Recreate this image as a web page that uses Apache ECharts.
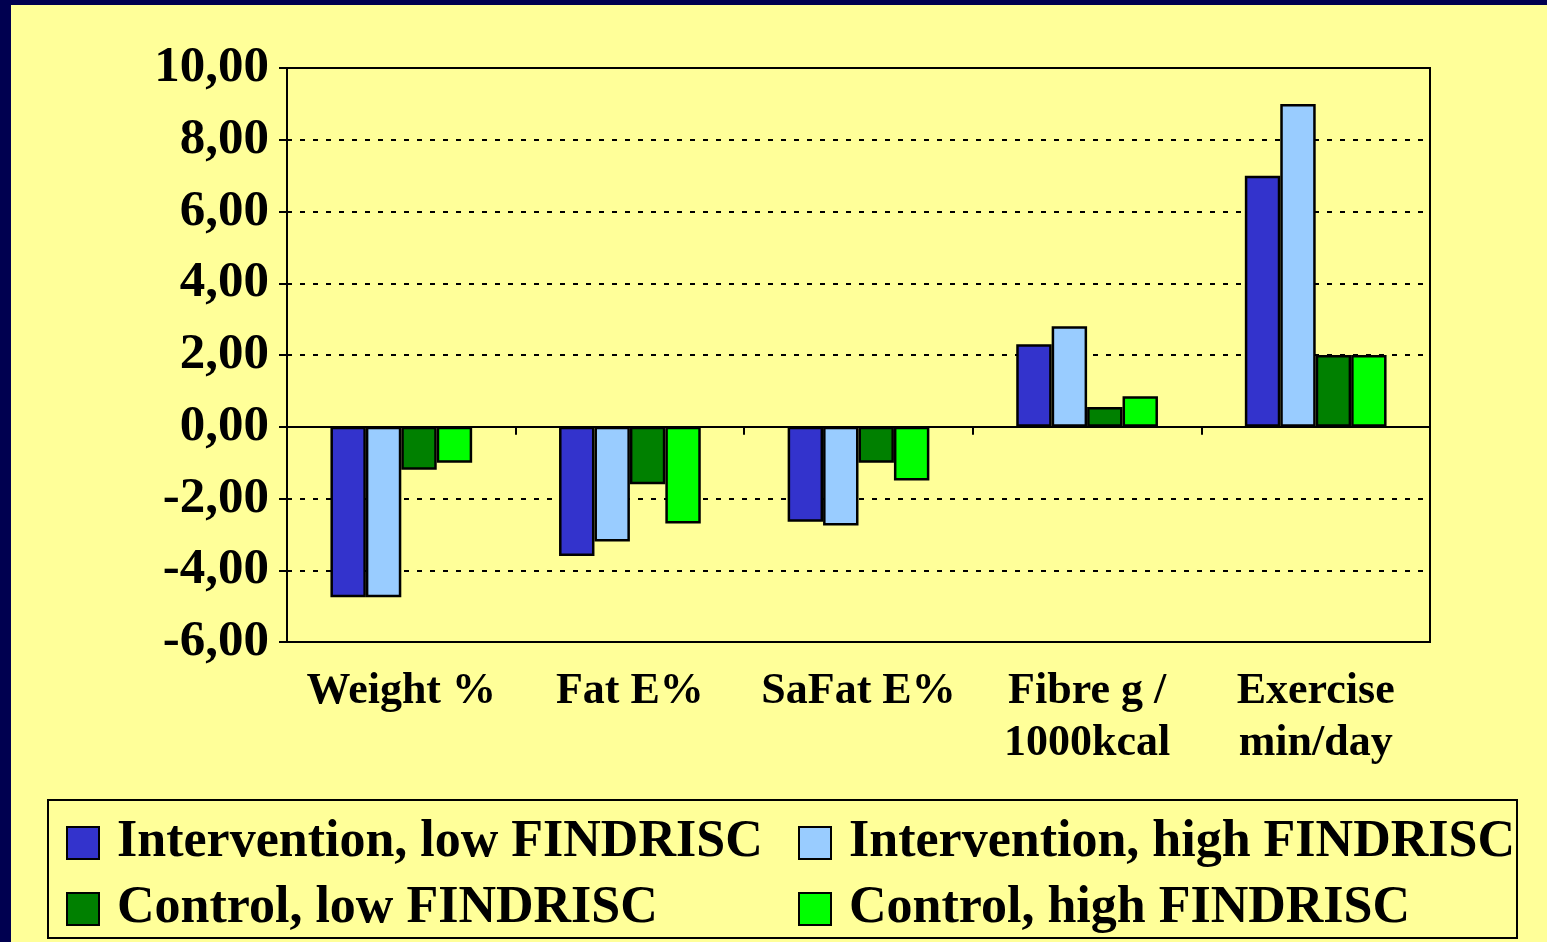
<!DOCTYPE html>
<html>
<head>
<meta charset="utf-8">
<script src="https://cdn.jsdelivr.net/npm/echarts@6/dist/echarts.min.js"></script>
<style>
  html, body { margin: 0; padding: 0; background: #000050; width: 1547px; height: 942px; overflow: hidden; }
  #chart { position: absolute; left: 11px; top: 5px; width: 1536px; height: 937px; background: #ffff99; }
</style>
</head>
<body>
<div id="chart"></div>
<script>
// categories
const categories = ['Weight %', 'Fat E%', 'SaFat E%', 'Fibre g /\n1000kcal', 'Exercise\nmin/day']
// series values
const intLow = [-4.75, -3.6, -2.65, 2.3, 7.0]
const intHigh = [-4.75, -3.2, -2.75, 2.8, 9.0]
const ctrlLow = [-1.2, -1.6, -1.0, 0.55, 2.0]
const ctrlHigh = [-1.0, -2.7, -1.5, 0.85, 2.0]
const seriesNames = ['Intervention, low FINDRISC', 'Intervention, high FINDRISC', 'Control, low FINDRISC', 'Control, high FINDRISC']
const seriesColors = ['#3333cc', '#99ccff', '#008000', '#00ff00']
// y ticks
const yMin = -6, yMax = 10, yStep = 2

const serif = '"Liberation Serif", "Times New Roman", serif'
const myChart = echarts.init(document.getElementById('chart'))

const option = {
  animation: false,
  grid: {
    left: 276,
    right: 117,
    top: 63,
    bottom: 300,
    show: true,
    borderColor: '#000',
    borderWidth: 2,
    backgroundColor: 'transparent'
  },
  legend: {
    left: 37,
    top: 795,
    width: 1500,
    padding: [17, 1, 3, 18],
    borderColor: '#000',
    borderWidth: 2,
    itemWidth: 32,
    itemHeight: 32,
    itemGap: 14,
    icon: 'rect',
    itemStyle: { borderColor: '#000', borderWidth: 2 },
    formatter: name => ' ' + name,
    textStyle: {
      fontFamily: serif,
      fontWeight: 'bold',
      fontSize: 52,
      color: '#000',
      width: 680,
      lineHeight: 45
    },
    data: seriesNames
  },
  xAxis: [
    {
      type: 'category',
      data: categories,
      position: 'bottom',
      axisLine: { onZero: false, lineStyle: { color: '#000', width: 2 } },
      axisTick: { show: false },
      axisLabel: {
        fontFamily: serif,
        fontWeight: 'bold',
        fontSize: 44,
        lineHeight: 52,
        color: '#000',
        margin: 24,
        interval: 0
      },
      splitLine: { show: false }
    },
    {
      type: 'category',
      data: categories,
      position: 'top',
      axisLine: { onZero: true, lineStyle: { color: '#000', width: 2 } },
      axisTick: { show: true, inside: true, length: 8, lineStyle: { color: '#000', width: 2 } },
      axisLabel: { show: false },
      splitLine: { show: false }
    }
  ],
  yAxis: {
    type: 'value',
    min: yMin,
    max: yMax,
    interval: yStep,
    axisLine: { show: true, onZero: false, lineStyle: { color: '#000', width: 2 } },
    axisTick: { show: true, length: 8, lineStyle: { color: '#000', width: 2 } },
    axisLabel: {
      fontFamily: serif,
      fontWeight: 'bold',
      fontSize: 51,
      color: '#000',
      margin: 18,
      formatter: v => v.toFixed(2).replace('.', ',')
    },
    splitLine: {
      show: true,
      lineStyle: { color: '#000', width: 2, type: [5, 8] }
    }
  },
  series: [intLow, intHigh, ctrlLow, ctrlHigh].map((vals, i) => ({
    name: seriesNames[i],
    type: 'bar',
    xAxisIndex: 0,
    data: vals,
    barGap: '0%',
    barCategoryGap: '38%',
    itemStyle: { color: seriesColors[i], borderColor: '#000', borderWidth: 2.5 }
  }))
}

myChart.setOption(option)
</script>
</body>
</html>
